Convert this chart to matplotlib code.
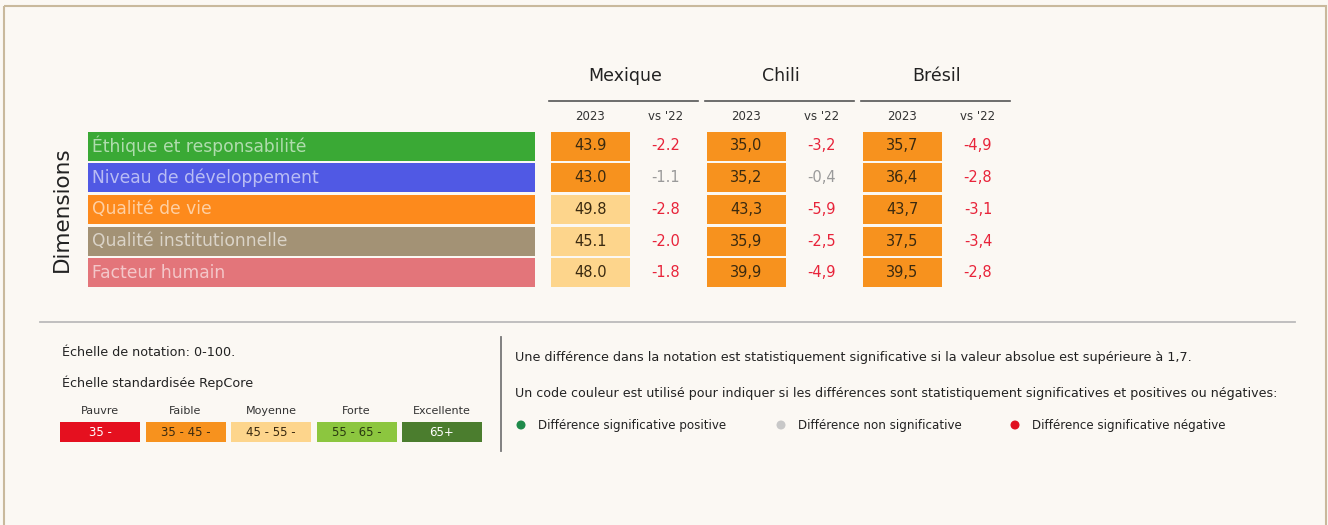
import numpy as np
import matplotlib.pyplot as plt
from matplotlib.patches import Rectangle

# --- data ---
dimensions = ["Éthique et responsabilité", "Niveau de développement", "Qualité de vie",
              "Qualité institutionnelle", "Facteur humain"]
dim_colors = ["#3aa935", "#5059e4", "#fd8a1c", "#a39275", "#e3757a"]

countries = ["Mexique", "Chili", "Brésil"]
decimal_sep = [".", ",", ","]
scores_2023 = {
    "Mexique": [43.9, 43.0, 49.8, 45.1, 48.0],
    "Chili": [35.0, 35.2, 43.3, 35.9, 39.9],
    "Brésil": [35.7, 36.4, 43.7, 37.5, 39.5],
}
delta_vs_22 = {
    "Mexique": [-2.2, -1.1, -2.8, -2.0, -1.8],
    "Chili": [-3.2, -0.4, -5.9, -2.5, -4.9],
    "Brésil": [-4.9, -2.8, -3.1, -3.4, -2.8],
}

scale_names = ["Pauvre", "Faible", "Moyenne", "Forte", "Excellente"]
scale_ranges = ["35 -", "35 - 45 -", "45 - 55 -", "55 - 65 -", "65+"]
scale_bins = [35, 45, 55, 65]
scale_colors = ["#e5101f", "#f7921e", "#fdd58c", "#8cc63f", "#4b7d2e"]
scale_text = ["white", "#3a2a10", "#3a2a10", "#2a3a10", "white"]
signif_threshold = 1.7

BG = "#fbf8f3"
fig = plt.figure(figsize=(13.28, 5.25), dpi=100, facecolor=BG)
ax = fig.add_axes([0, 0, 1, 1])
ax.set_xlim(0, 1328)
ax.set_ylim(525, 0)
ax.axis("off")
ax.set_facecolor(BG)

main_font = "DejaVu Sans"
small_font = "DejaVu Sans"

# frame
ax.add_patch(Rectangle((4, 6), 1322, 530, fill=False, edgecolor="#c9b99c", lw=1.5))

# --- dimension bars ---
row_y = 146 + np.arange(len(dimensions)) * 31.7
row_h = 29
ax.barh(row_y, 447, left=88, height=row_h, color=dim_colors)
for y, name in zip(row_y, dimensions):
    ax.text(92, y, name, ha="left", va="center", fontsize=12.3, color="white",
            alpha=0.6, family=main_font)
ax.text(62, row_y.mean(), "Dimensions", rotation=90, ha="center", va="center",
        fontsize=15.5, color="#222222", family=main_font)

# --- country tables ---
for k, c in enumerate(countries):
    x0 = 551 + k * 156
    ax.text(x0 + 74, 76, c, ha="center", va="center", fontsize=12.5,
            color="#222222", family=main_font)
    ax.plot([x0 - 2, x0 + 147], [101, 101], color="#555555", lw=1.2)
    ax.text(x0 + 39, 116, "2023", ha="center", va="center", fontsize=8.5,
            color="#333333", family=main_font)
    ax.text(x0 + 115, 116, "vs '22", ha="center", va="center", fontsize=8.5,
            color="#333333", family=main_font)
    vals = scores_2023[c]
    cols = [scale_colors[np.digitize(v, scale_bins)] for v in vals]
    ax.barh(row_y, 79, left=x0, height=row_h, color=cols)
    for y, v, d in zip(row_y, vals, delta_vs_22[c]):
        ax.text(x0 + 39.5, y, f"{v:.1f}".replace(".", decimal_sep[k]),
                ha="center", va="center", fontsize=10.5, color="#3a2a10",
                family=main_font)
        dcol = "#e8243a" if abs(d) > signif_threshold else "#9a9a9a"
        ax.text(x0 + 115, y, f"{d:.1f}".replace(".", decimal_sep[k]),
                ha="center", va="center", fontsize=10.5, color=dcol,
                family=main_font)

# --- separators ---
ax.plot([40, 1295], [322, 322], color="#bbbbbb", lw=1.3)
ax.plot([501, 501], [337, 451], color="#777777", lw=1.3)

# --- bottom left: scale legend ---
ax.text(62, 352, "Échelle de notation: 0-100.", ha="left", va="center",
        fontsize=9.2, color="#222222", family=small_font)
ax.text(62, 383, "Échelle standardisée RepCore", ha="left", va="center",
        fontsize=9.2, color="#222222", family=small_font)
sx = 60 + np.arange(len(scale_names)) * 85.5
ax.bar(sx, 20, bottom=422, width=80, align="edge", color=scale_colors)
for x, n, r, tc in zip(sx, scale_names, scale_ranges, scale_text):
    ax.text(x + 40, 411, n, ha="center", va="center", fontsize=8,
            color="#333333", family=small_font)
    ax.text(x + 40, 432, r, ha="center", va="center", fontsize=8.5,
            color=tc, family=small_font)

# --- bottom right: significance legend ---
ax.text(515, 358, "Une différence dans la notation est statistiquement significative "
        "si la valeur absolue est supérieure à 1,7.", ha="left", va="center",
        fontsize=9.2, color="#222222", family=small_font)
ax.text(515, 394, "Un code couleur est utilisé pour indiquer si les différences sont "
        "statistiquement significatives et positives ou négatives:", ha="left",
        va="center", fontsize=9.1, color="#222222", family=small_font)
legend_items = ["Différence significative positive", "Différence non significative",
                "Différence significative négative"]
legend_colors = ["#1e8a4a", "#c8c8c8", "#e0101e"]
legend_x = [521, 781, 1015]
ax.scatter(legend_x, [425] * 3, s=30, color=legend_colors, zorder=3)
for x, t in zip(legend_x, legend_items):
    ax.text(x + 17, 425, t, ha="left", va="center", fontsize=8.6,
            color="#222222", family=small_font)

fig.savefig("out.png", dpi=100, facecolor=BG)
